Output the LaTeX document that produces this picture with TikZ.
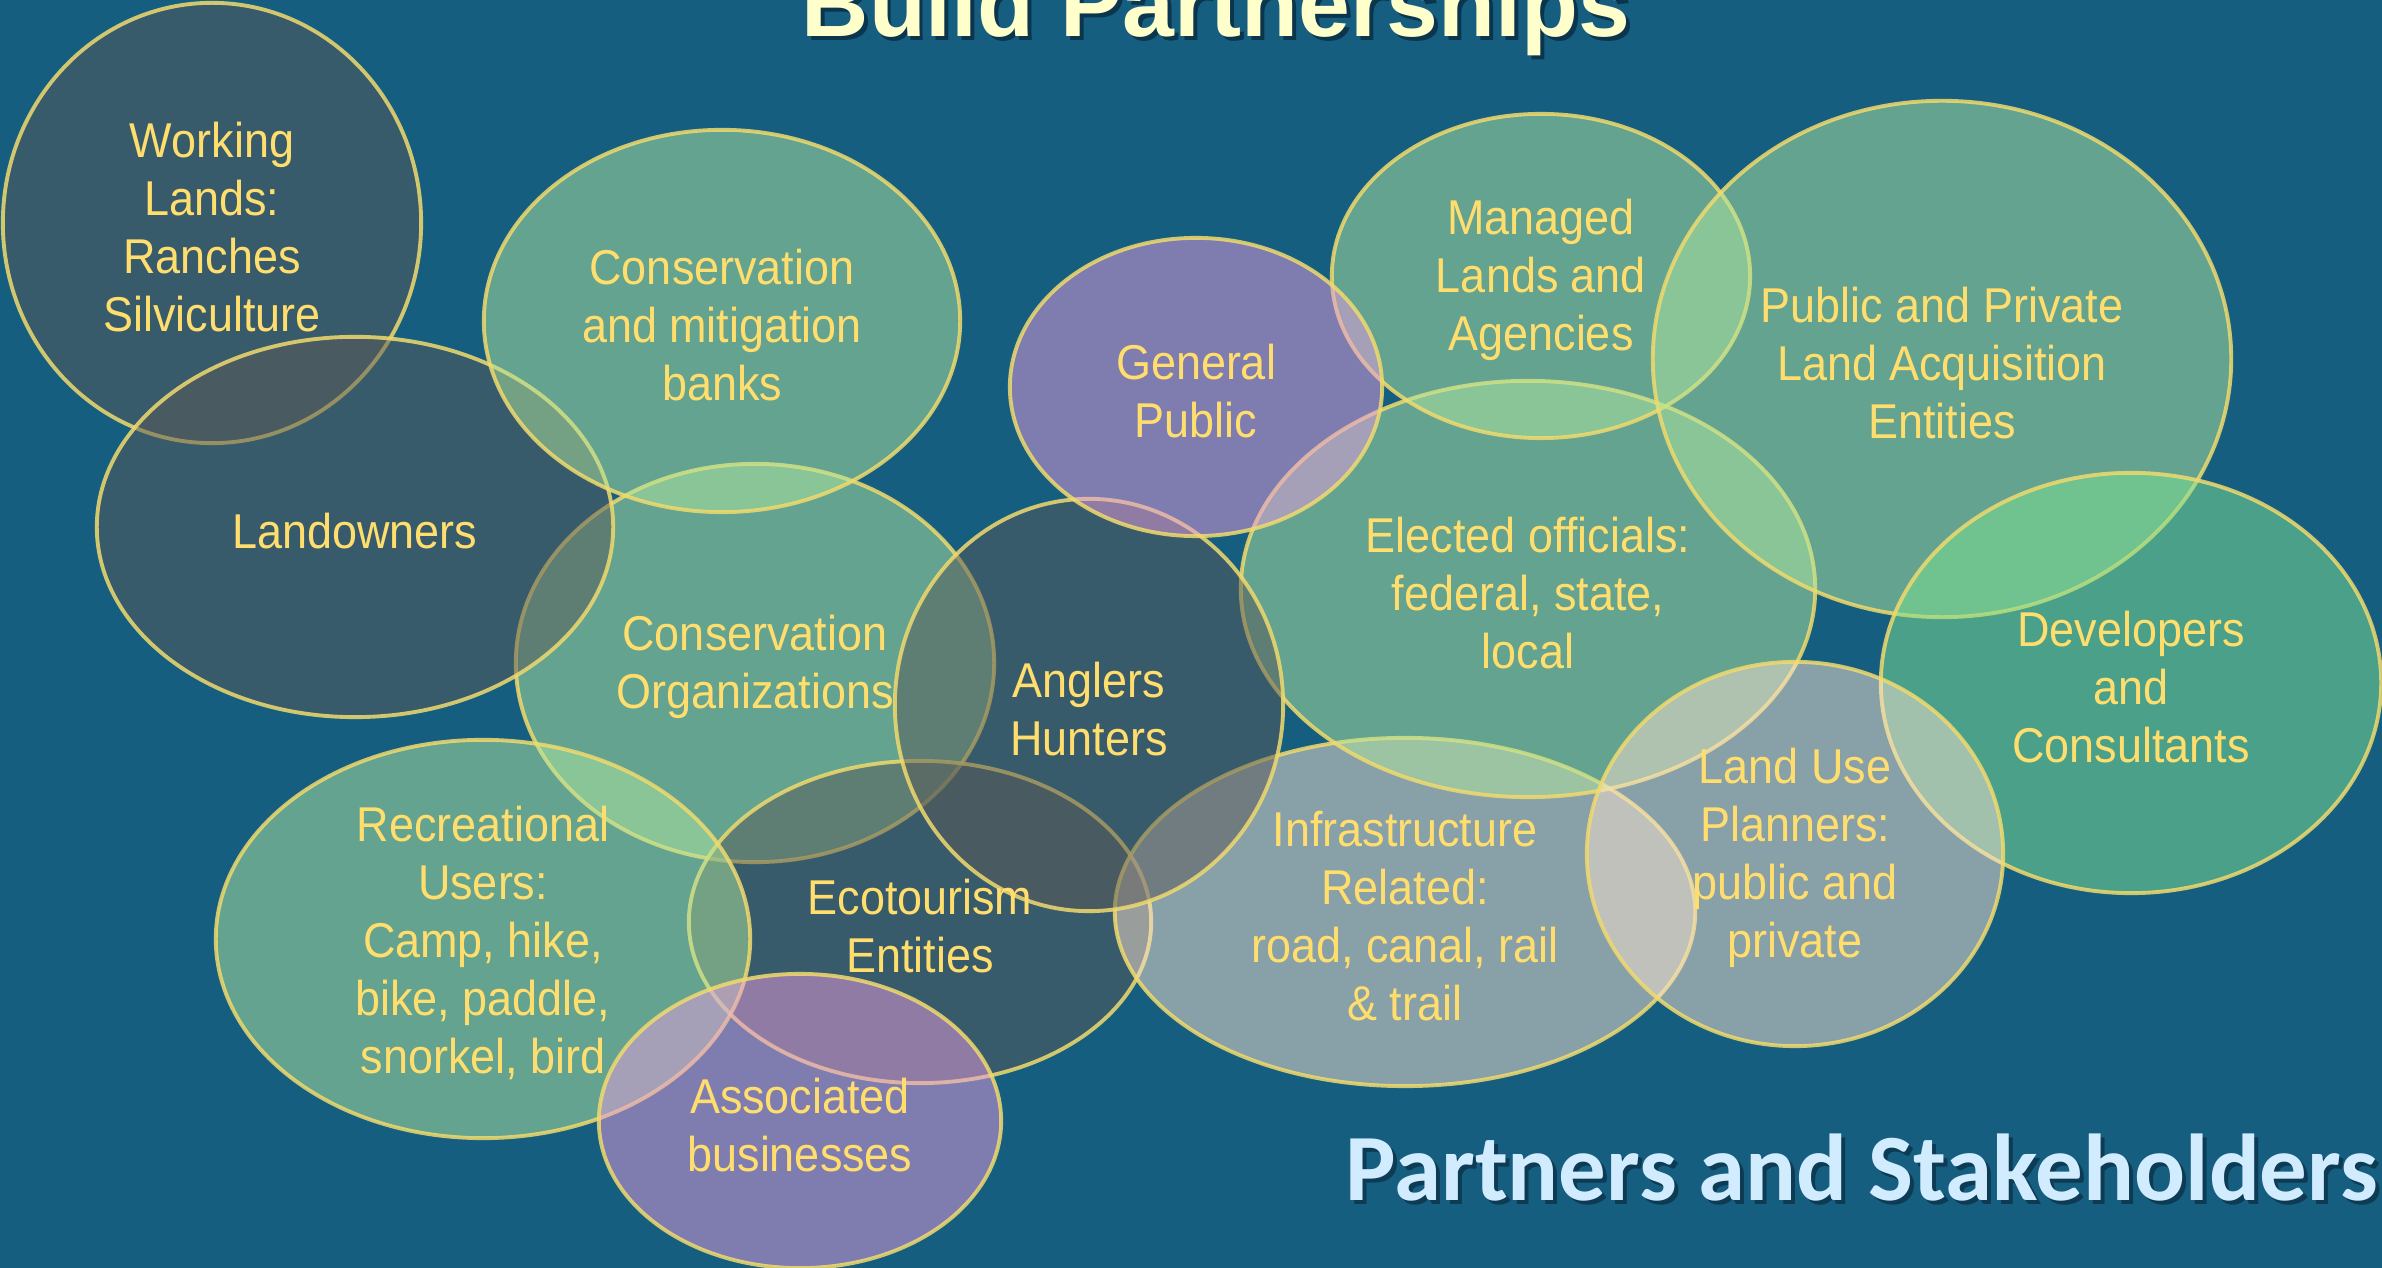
\documentclass[tikz,border=0pt]{standalone}
\usepackage{fontspec}
\setmainfont{Liberation Sans}
\newfontfamily\blobfont{Liberation Sans}[FakeStretch=0.92]
\newfontfamily\headfont{Liberation Sans}
\newfontfamily\tagfont{Carlito}
\usetikzlibrary{shapes.geometric}

\definecolor{bgblue}{RGB}{22,94,128}
\definecolor{darkfill}{RGB}{90,90,88}
\definecolor{greenfill}{RGB}{176,232,158}
\definecolor{purplefill}{RGB}{232,156,224}
\definecolor{grayfill}{RGB}{250,226,208}
\definecolor{devfill}{RGB}{126,226,144}
\definecolor{rimyellow}{RGB}{240,218,110}
\definecolor{labelyellow}{RGB}{255,222,110}
\definecolor{titlecream}{RGB}{255,255,204}
\definecolor{tagblue}{RGB}{210,236,255}
\definecolor{shadowblue}{RGB}{6,36,54}

\begin{document}
\begin{tikzpicture}[x=0.01cm,y=-0.01cm,
    blob/.style={ellipse,draw=rimyellow,line width=1.1pt,draw opacity=0.85,fill opacity=0.5,inner sep=0pt},
    lbl/.style={text=labelyellow,align=center,inner sep=0pt,yshift=-0.04cm,font=\blobfont\fontsize{13.9pt}{16.5pt}\selectfont},
    headline/.style={anchor=base west,inner sep=0pt,font=\headfont\bfseries\fontsize{26.5pt}{30pt}\selectfont},
    tagline/.style={anchor=base west,inner sep=0pt,font=\tagfont\bfseries\fontsize{27pt}{32pt}\selectfont}]
  \useasboundingbox (0,0) rectangle (2382,1268);
  \fill[bgblue] (0,0) rectangle (2382,1268);

  % ellipses, back to front
  \foreach \n/\cx/\cy/\rx/\ry/\col in {
      wl/212/223/209/220/darkfill,
      corg/755/663/239/199/greenfill,
      lown/355/527/258/190/darkfill,
      cmb/722/321/238/191/greenfill,
      eco/920/922/231/161/darkfill,
      rec/483/939/267/199/greenfill,
      assoc/800/1121/201/147/purplefill,
      infra/1405/912/290/174/grayfill,
      elect/1528/589/287/208/greenfill,
      mla/1541/276/209/162/greenfill,
      ppla/1942/359/289/258/greenfill,
      dev/2131/683/250/210/devfill,
      lup/1795/854/208/192/grayfill,
      angl/1089/705/194/206/darkfill,
      gpub/1196/387/186/149/purplefill}
    \node[blob,fill=\col,minimum width=\rx*0.02cm,minimum height=\ry*0.02cm] (\n) at (\cx,\cy) {};

  \node[lbl] (wl-t) at (wl) {Working\\Lands:\\Ranches\\Silviculture};
  \node[lbl] (cmb-t) at (cmb) {Conservation\\and mitigation\\banks};
  \node[lbl] (lown-t) at (lown) {Landowners};
  \node[lbl] (corg-t) at (corg) {Conservation\\Organizations};
  \node[lbl] (gpub-t) at (gpub) {General\\Public};
  \node[lbl] (mla-t) at (mla) {Managed\\Lands and\\Agencies};
  \node[lbl] (ppla-t) at (ppla) {Public and Private\\Land Acquisition\\Entities};
  \node[lbl] (elect-t) at (elect) {Elected officials:\\federal, state,\\local};
  \node[lbl] (angl-t) at (angl) {Anglers\\Hunters};
  \node[lbl] (dev-t) at (dev) {Developers\\and\\Consultants};
  \node[lbl] (lup-t) at (lup) {Land Use\\Planners:\\public and\\private};
  \node[lbl] (infra-t) at (infra) {Infrastructure\\Related:\\road, canal, rail\\\& trail};
  \node[lbl] (rec-t) at (rec) {Recreational\\Users:\\Camp, hike,\\bike, paddle,\\snorkel, bird};
  \node[lbl] (eco-t) at (eco) {Ecotourism\\Entities};
  \node[lbl] (assoc-t) at (assoc) {Associated\\businesses};

  \node[headline,text=shadowblue,opacity=0.7] (head-sh) at (805,41) {Build Partnerships};
  \node[headline,text=titlecream] (head) at (801,37) {Build Partnerships};
  \node[tagline,text=shadowblue,opacity=0.6] (tag-sh) at (1349,1204) {Partners and Stakeholders};
  \node[tagline,text=tagblue] (tag) at (1345,1200) {Partners and Stakeholders};
\end{tikzpicture}
\end{document}
